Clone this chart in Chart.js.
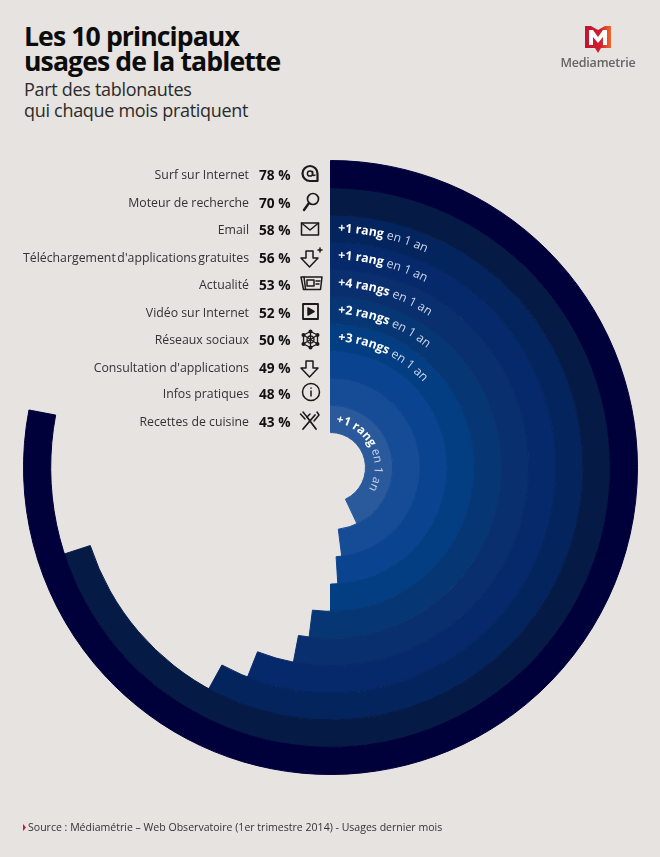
<!DOCTYPE html>
<html lang="fr">
<head>
<meta charset="utf-8">
<title>Les 10 principaux usages de la tablette</title>
<script src="https://cdn.jsdelivr.net/npm/chart.js@4"></script>
<style>
html, body { margin: 0; padding: 0; background: #e6e3e0; }
#page { position: relative; width: 660px; height: 857px; overflow: hidden; font-family: "Open Sans", sans-serif; color: #222; }
#page div { position: absolute; white-space: nowrap; }
#chartBox { left: 22.5px; top: 159.5px; width: 615px; height: 615px; }
#overlay { position: absolute; left: 0; top: 0; }
.title { left: 24px; font-size: 26.6px; font-weight: 700; color: #0c0c0c; letter-spacing: -0.9px; line-height: 27px; }
.sub { left: 24px; font-size: 18px; color: #2b2b2b; letter-spacing: -0.3px; }
.cat { right: 411px; font-size: 12.3px; color: #333; transform: translateY(-50%); }
.pct { left: 259px; font-size: 13.7px; font-weight: 700; color: #111; transform: translateY(-50%); }
</style>
</head>
<body>
<div id="page">
  <div class="title" style="top:23px">Les 10 principaux</div>
  <div class="title" style="top:48px">usages de la tablette</div>
  <div class="sub" style="top:77px">Part des tablonautes</div>
  <div class="sub" style="top:98px">qui chaque mois pratiquent</div>
  <div id="chartBox"><canvas id="graficaUsages"></canvas></div>
  <svg id="overlay" width="660" height="857"></svg>
  <div style="left:28px;top:820px;font-size:10.55px;color:#333">Source : Médiamétrie – Web Observatoire (1er trimestre 2014) - Usages dernier mois</div>
  <div style="left:560px;top:54px;width:76px;text-align:center;font-size:12.5px;font-weight:600;color:#666;letter-spacing:-0.2px">Mediametrie</div>
</div>
<script>
var categories = ['Surf sur Internet', 'Moteur de recherche', 'Email', "Téléchargement d'applications gratuites", 'Actualité', 'Vidéo sur Internet', 'Réseaux sociaux', "Consultation d'applications", 'Infos pratiques', 'Recettes de cuisine'];
var usages = [78, 70, 58, 56, 53, 52, 50, 49, 48, 43];
var rangs = ['', '', '+1 rang', '+1 rang', '+4 rangs', '+2 rangs', '+3 rangs', '', '', '+1 rang'];
var couleurs = ['#00003a', '#051a45', '#04245e', '#05296a', '#0a2f6e', '#063774', '#033d82', '#0a4490', '#164c95', '#2a5a9c'];
var rowY = [173.5, 201.5, 228.5, 256.5, 283.5, 311.5, 338.5, 366.5, 392.5, 420.5];

var page = document.getElementById('page');
var overlay = document.getElementById('overlay');
var svg = '';

// lignes de gauche : libelle + pourcentage
categories.forEach(function (nom, i) {
    var cat = document.createElement('div');
    cat.className = 'cat';
    cat.style.top = rowY[i] + 'px';
    cat.textContent = nom;
    if (i === 3) { cat.style.wordSpacing = '-1.6px'; }
    page.appendChild(cat);
    var pct = document.createElement('div');
    pct.className = 'pct';
    pct.style.top = rowY[i] + 'px';
    pct.textContent = usages[i] + ' %';
    page.appendChild(pct);
});

new Chart(document.getElementById('graficaUsages').getContext('2d'), {
    type: 'doughnut',
    data: {
        labels: ['Usage', 'Reste'],
        datasets: usages.map(function (v, i) {
            // bordure de la meme couleur pour cacher les filets entre anneaux
            return {
                data: [v, 100 - v],
                backgroundColor: [couleurs[i], 'rgba(0,0,0,0)'],
                borderColor: [couleurs[i], 'rgba(0,0,0,0)'],
                borderWidth: 1
            };
        })
    },
    options: {
        responsive: true,
        maintainAspectRatio: false,
        animation: false,
        cutout: (35 / 307 * 100) + '%',
        plugins: { legend: { display: false }, tooltip: { enabled: false } }
    }
});

// textes courbes sur les anneaux
var cx = 330, cy = 467, rOut = 307, rIn = 35;
var ep = (rOut - rIn) / 10;
rangs.forEach(function (r, i) {
    if (!r) return;
    var rayon = rOut - ep * (i + 0.5) - 4;
    var small = i === 9;
    svg += '<path id="arc' + i + '" fill="none" d="M' + cx + ' ' + (cy - rayon) + ' A' + rayon + ' ' + rayon + ' 0 1 1 ' + cx + ' ' + (cy + rayon) + '"/>';
    svg += '<text font-size="' + (small ? 11.8 : 12.3) + '" fill="#c9d5e8"><textPath href="#arc' + i + '" startOffset="' + (small ? 6 : 8) + '"><tspan font-weight="700" fill="#fff">' + r + '</tspan> en 1 an</textPath></text>';
});

// pictos
var s = 'fill="none" stroke="#1a1a1a" stroke-width="1.5" stroke-linejoin="round" stroke-linecap="round"';
var fleche = 'l0 -7 l7 0 l0 7 l5 0 l-8.5 9 l-8.5 -9 z';
svg += '<g ' + s + '>';
svg += '<path d="M317.5 181 H310 A7.5 7.5 0 1 1 317.5 173.5 V181" stroke-width="2.2"/><circle cx="310" cy="173.5" r="2.6"/><path d="M312.6 171.5v3.5a1.6 1.6 0 0 0 2.4 0"/>';
svg += '<circle cx="313" cy="199" r="5.5" stroke-width="1.7"/><path d="M309 203 L304 210" stroke-width="2.4"/>';
svg += '<rect x="301.5" y="223" width="17" height="12"/><path d="M301.5 223 L310 230 L318.5 223"/>';
svg += '<path d="M306 258 ' + fleche + '"/><path d="M318 250h4M320 248v4"/>';
svg += '<path d="M301 277 H322 L320.5 289.5 H303.5 Z"/><path d="M304 277 L305.5 289"/><rect x="307" y="280" width="7" height="6"/><path d="M316 281h4M316 284h3"/>';
svg += '<rect x="303" y="304" width="15" height="15" stroke-width="1.8"/><path d="M308 308 L314 311.5 L308 315 Z" fill="#1a1a1a"/>';
svg += '<g stroke-width="1.3"><path d="M310.5 331.5 L317.5 335 V344 L310.5 347.5 L303.5 344 V335 Z"/><path d="M303.5 335 L317.5 344 M317.5 335 L303.5 344 M310.5 331.5 V347.5"/><circle cx="310.5" cy="339.5" r="3.5"/></g>';
svg += '<g fill="#1a1a1a" stroke="none"><circle cx="310.5" cy="331.5" r="2"/><circle cx="310.5" cy="347.5" r="2"/><circle cx="303.5" cy="335" r="2"/><circle cx="317.5" cy="335" r="2"/><circle cx="303.5" cy="344" r="2"/><circle cx="317.5" cy="344" r="2"/></g>';
svg += '<path d="M306 368 ' + fleche + '"/>';
svg += '<circle cx="311" cy="392" r="8.5"/><path d="M311 391v5" /><path d="M311 388v.3"/>';
svg += '<path d="M303 429 L315 415 M316 429 L307 417" stroke-width="1.8"/><path d="M303 412 L307 417 L310 414 M300.5 414 L305 419 M317 412 L319 415 L314 421"/>';
svg += '</g>';

// logo et puce source
svg += '<defs><linearGradient id="logoGrad" x1="0" x2="1" y1="0" y2="0"><stop offset="0" stop-color="#c4122f"/><stop offset="0.6" stop-color="#d2202f"/><stop offset="1" stop-color="#ee6a2c"/></linearGradient></defs>';
svg += '<path d="M585 26 H591 L598 30 L605 26 H611 V48 H601 L598 53 L595 48 H585 Z" fill="url(#logoGrad)"/>';
svg += '<path d="M589 45 V30 H593 L598 37 L603 30 H607 V45 H603 V37 L598 43 L593 37 V45 Z" fill="#fff"/>';
svg += '<path d="M23 824 L26 827.5 L23 831 Z" fill="#d4142a"/>';
overlay.innerHTML = svg;
</script>
</body>
</html>
